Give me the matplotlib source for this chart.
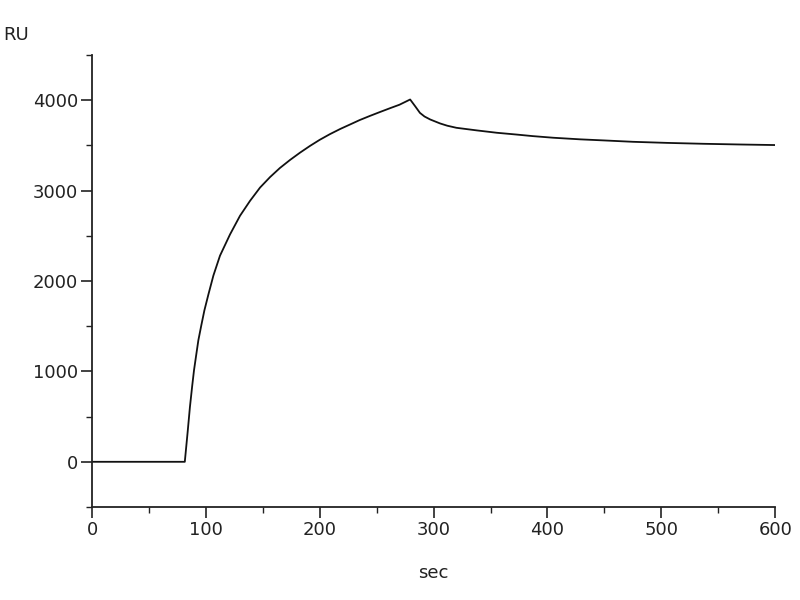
import matplotlib
matplotlib.use("Agg")
import matplotlib.pyplot as plt
from matplotlib.ticker import MultipleLocator

time_sec = [0, 40, 81.5, 84, 86, 88, 89.6, 91.5, 93.4, 96, 98.7, 102.2, 106.6, 112.4,
            121.2, 130, 138.8, 147.6, 156.4, 165, 174, 182.7, 191.5, 200, 209, 218,
            226.7, 235, 244, 253, 262, 270, 279.4, 284, 288, 292, 297, 305.7, 312,
            320, 338, 355.5, 373, 387, 405, 429, 450, 475, 505, 537, 570, 600]
response_ru = [0, 0, 0, 330, 606, 840, 1014, 1180, 1344, 1510, 1675, 1850, 2060, 2280,
               2515, 2722, 2887, 3034, 3150, 3250, 3340, 3420, 3495, 3562, 3625, 3682,
               3732, 3780, 3826, 3870, 3913, 3950, 4008, 3930, 3860, 3820, 3787, 3743,
               3718, 3695, 3666, 3640, 3620, 3603, 3585, 3567, 3555, 3540, 3528, 3518,
               3510, 3504]

plt.rcParams['font.family'] = ['DejaVu Sans']

fig = plt.figure(figsize=(8, 6), dpi=100)
ax = fig.add_axes([0.115, 0.155, 0.969 - 0.115, 0.9083 - 0.155])
ax.plot(time_sec, response_ru, color='#111111', lw=1.3)

ax.set_xlim(0, 600)
ax.set_ylim(-500, 4500)
ax.xaxis.set_major_locator(MultipleLocator(100))
ax.xaxis.set_minor_locator(MultipleLocator(50))
ax.yaxis.set_major_locator(MultipleLocator(1000))
ax.yaxis.set_minor_locator(MultipleLocator(500))
for s in ['top', 'right']:
    ax.spines[s].set_visible(False)
for s in ['left', 'bottom']:
    ax.spines[s].set_linewidth(1.3)
    ax.spines[s].set_color('#222222')
ax.tick_params(which='major', length=8, width=1.2, colors='#222222', labelsize=13, pad=2)
ax.tick_params(which='minor', length=4, width=1.0, colors='#222222')
ax.set_yticks([0, 1000, 2000, 3000, 4000])
ax.set_xlabel('sec', fontsize=13, color='#222222', labelpad=18)
fig.text(0.004, 0.942, 'RU', fontsize=13, color='#222222', ha='left', va='center')

fig.savefig('out.png', dpi=100)
